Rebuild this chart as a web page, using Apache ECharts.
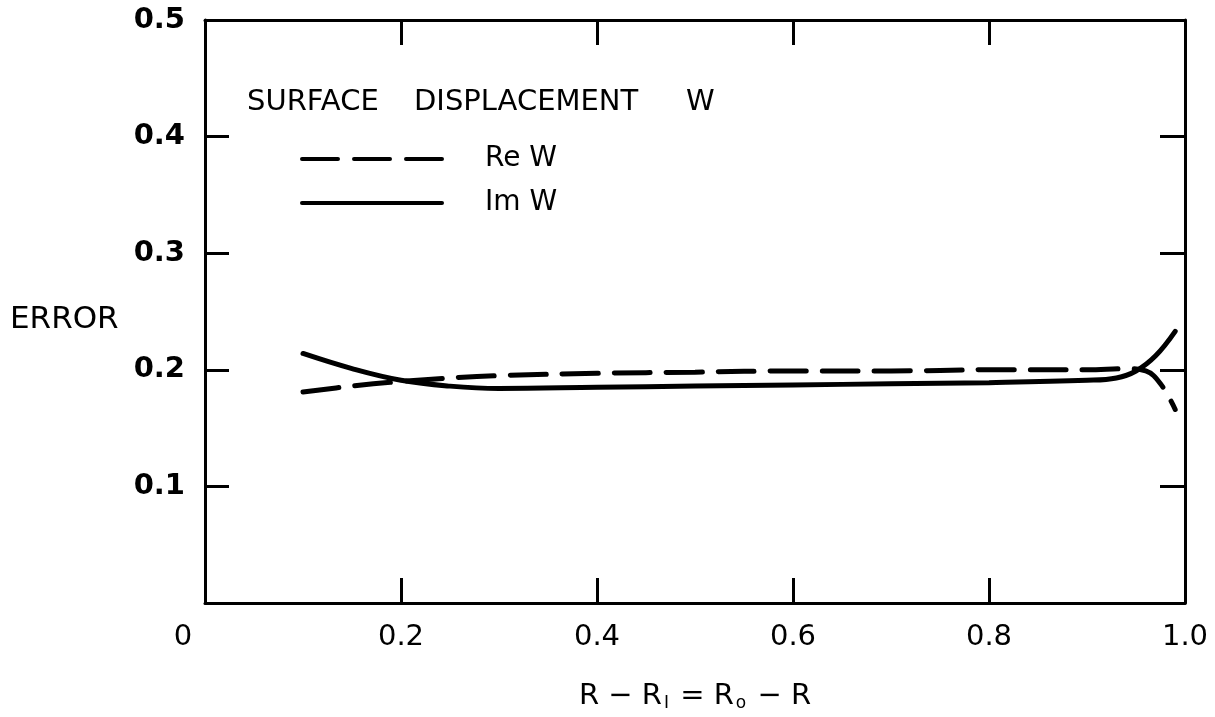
<!DOCTYPE html>
<html>
<head>
<meta charset="utf-8">
<script src="https://cdn.jsdelivr.net/npm/echarts@6/dist/echarts.min.js"></script>
<style>html,body{margin:0;padding:0;background:#fff}#c{width:1215px;height:717px}</style>
</head>
<body>
<div id="c"></div>
<script>
// Data
const xTicks = [0, 0.2, 0.4, 0.6, 0.8, 1.0];
const yTicks = [0.1, 0.2, 0.3, 0.4, 0.5];
const reW = [[0.1,0.181],[0.15,0.186],[0.2,0.190],[0.25,0.193],[0.3,0.195],[0.4,0.197],[0.5,0.198],[0.6,0.199],[0.7,0.199],[0.8,0.200],[0.9,0.200],[0.94,0.201],[0.96,0.199],[0.975,0.188],[0.99,0.166]];
const imW = [[0.1,0.214],[0.15,0.201],[0.2,0.191],[0.25,0.186],[0.3,0.184],[0.4,0.185],[0.5,0.186],[0.6,0.187],[0.7,0.188],[0.8,0.189],[0.9,0.191],[0.93,0.193],[0.95,0.199],[0.97,0.212],[0.99,0.233]];
const seriesNames = ['Re W', 'Im W'];
const titleWords = ['SURFACE', 'DISPLACEMENT', 'W'];
const yName = 'ERROR';

const FONT = 'DejaVu Sans';
const chart = echarts.init(document.getElementById('c'), null, {renderer: 'canvas'});
const axisLine = {show: true, onZero: false, lineStyle: {color: '#000', width: 3}};
const tick = (len) => ({show: true, inside: true, length: len, lineStyle: {color: '#000', width: 3}});
const txt = (s, x, y, size) => ({type: 'text', left: x, top: y, style: {text: s, font: size + 'px "' + FONT + '"', fill: '#000'}});
chart.setOption({
  backgroundColor: '#fff',
  animation: false,
  color: ['#000', '#000'],
  legend: {
    orient: 'vertical', left: 295, top: 140,
    itemWidth: 140, itemHeight: 26, itemGap: 16,
    data: seriesNames,
    itemStyle: {opacity: 0},
    lineStyle: {width: 4, cap: 'round'},
    textStyle: {fontFamily: FONT, fontSize: 28, color: '#000', padding: [0, 0, 0, 38]}
  },
  graphic: [
    txt(titleWords[0], 247, 88, 29),
    txt(titleWords[1], 414, 88, 29),
    txt(titleWords[2], 686, 88, 29),
    txt(yName, 10, 304, 31)
  ],
  grid: {left: 205, right: 30, top: 20, bottom: 105},
  xAxis: [{
    type: 'value', min: 0, max: 1, interval: 0.2, position: 'bottom',
    axisLine: axisLine, axisTick: tick(25), splitLine: {show: false},
    axisLabel: {
      margin: 20, fontFamily: FONT, fontSize: 29, color: '#000',
      formatter: v => xTicks.indexOf(Math.round(v*10)/10) < 0 ? '' : (v === 0 ? '{z|0}' : v.toFixed(1)),
      rich: {z: {fontFamily: FONT, fontSize: 29, color: '#000', padding: [0, 44, 0, 0]}}
    },
    name: '{a|R − R}{s|I}{a| = R}{s|o}{a| − R}',
    nameLocation: 'middle', nameGap: 78,
    nameTextStyle: {
      rich: {
        a: {fontFamily: FONT, fontSize: 29, color: '#000'},
        s: {fontFamily: FONT, fontSize: 17, color: '#000', verticalAlign: 'bottom', padding: [14, 2, 0, 2]}
      }
    }
  }, {
    type: 'value', min: 0, max: 1, interval: 0.2, position: 'top',
    axisLine: axisLine, axisTick: tick(25), axisLabel: {show: false}, splitLine: {show: false}
  }],
  yAxis: [{
    type: 'value', min: 0, max: 0.5, interval: 0.1, position: 'left',
    axisLine: axisLine, axisTick: tick(24), splitLine: {show: false},
    axisLabel: {
      margin: 20, fontFamily: FONT, fontSize: 29, fontWeight: 'bold', color: '#000',
      formatter: v => v === 0 ? '' : v.toFixed(1)
    }
  }, {
    type: 'value', min: 0, max: 0.5, interval: 0.1, position: 'right',
    axisLine: axisLine, axisTick: tick(25), axisLabel: {show: false}, splitLine: {show: false}
  }],
  series: [{
    name: seriesNames[0], type: 'line', data: reW, smooth: 0.4, symbol: 'none',
    itemStyle: {color: '#000'},
    lineStyle: {color: '#000', width: 5, type: [36, 16], cap: 'round'}
  }, {
    name: seriesNames[1], type: 'line', data: imW, smooth: 0.4, symbol: 'none',
    itemStyle: {color: '#000'},
    lineStyle: {color: '#000', width: 5, type: 'solid', cap: 'round'}
  }]
});
</script>
</body>
</html>
